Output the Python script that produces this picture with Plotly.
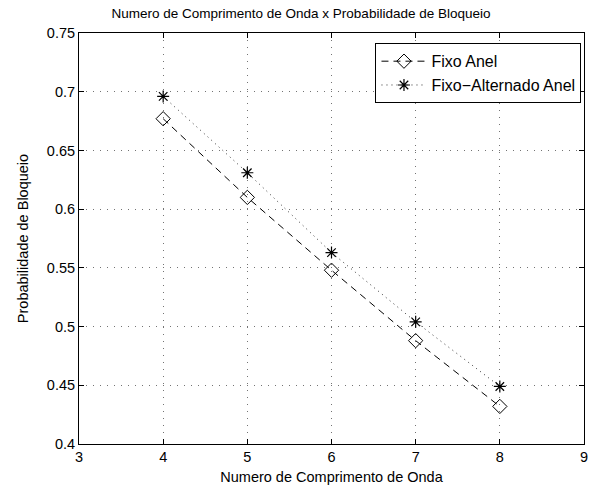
import plotly.graph_objects as go

x_vals = [4, 5, 6, 7, 8]
fixo_anel = [0.677, 0.610, 0.548, 0.488, 0.432]
fixo_alternado = [0.696, 0.631, 0.563, 0.504, 0.449]
x_ticks = [3, 4, 5, 6, 7, 8, 9]
y_ticks = [0.4, 0.45, 0.5, 0.55, 0.6, 0.65, 0.7, 0.75]
y_tick_text = ["0.4", "0.45", "0.5", "0.55", "0.6", "0.65", "0.7", "0.75"]

FONT = "Liberation Sans, Arial, Helvetica, sans-serif"

fig = go.Figure()
fig.add_trace(go.Scatter(
    x=x_vals, y=fixo_anel, mode="lines+markers", name="Fixo Anel",
    line=dict(color="black", width=1, dash="7px,5px"),
    marker=dict(symbol="diamond-open", size=11, color="black", line=dict(width=1)),
))
fig.add_trace(go.Scatter(
    x=x_vals, y=fixo_alternado, mode="lines+markers", name="Fixo\u2212Alternado Anel",
    line=dict(color="rgba(0,0,0,0.8)", width=1, dash="1px,4px"),
    marker=dict(symbol="asterisk-open", size=10, color="black", line=dict(width=1.2, color="black")),
))

axis_common = dict(
    showline=True, linecolor="black", linewidth=1, mirror="ticks",
    ticks="inside", ticklen=5, tickcolor="black",
    showgrid=True, gridcolor="rgba(0,0,0,0.55)", griddash="1px,6px", gridwidth=1,
    zeroline=False, automargin=False,
    tickfont=dict(family=FONT, size=14.5, color="black"),
)

fig.update_xaxes(range=[3, 9], tickvals=x_ticks, title=dict(text="Numero de Comprimento de Onda",
                 font=dict(family=FONT, size=14.5, color="black"), standoff=7), **axis_common)
fig.update_yaxes(range=[0.4, 0.75], tickvals=y_ticks, ticktext=y_tick_text,
                 title=dict(text="Probabilidade de Bloqueio",
                 font=dict(family=FONT, size=14.5, color="black"), standoff=14), **axis_common)

fig.update_layout(
    width=602, height=485,
    margin=dict(l=79, r=18, t=33, b=41, autoexpand=False),
    paper_bgcolor="white", plot_bgcolor="white",
    title=dict(text="Numero de Comprimento de Onda x Probabilidade de Bloqueio",
               x=0.5, xanchor="center", y=0.983, yanchor="top",
               font=dict(family=FONT, size=13.5, color="black")),
    font=dict(family=FONT, color="black"),
    showlegend=True,
    legend=dict(x=0.995, y=0.975, xanchor="right", yanchor="top",
                bgcolor="white", bordercolor="black", borderwidth=1,
                font=dict(family=FONT, size=16, color="black"),
                itemwidth=45, tracegroupgap=0),
)

fig.write_html("out.html")
